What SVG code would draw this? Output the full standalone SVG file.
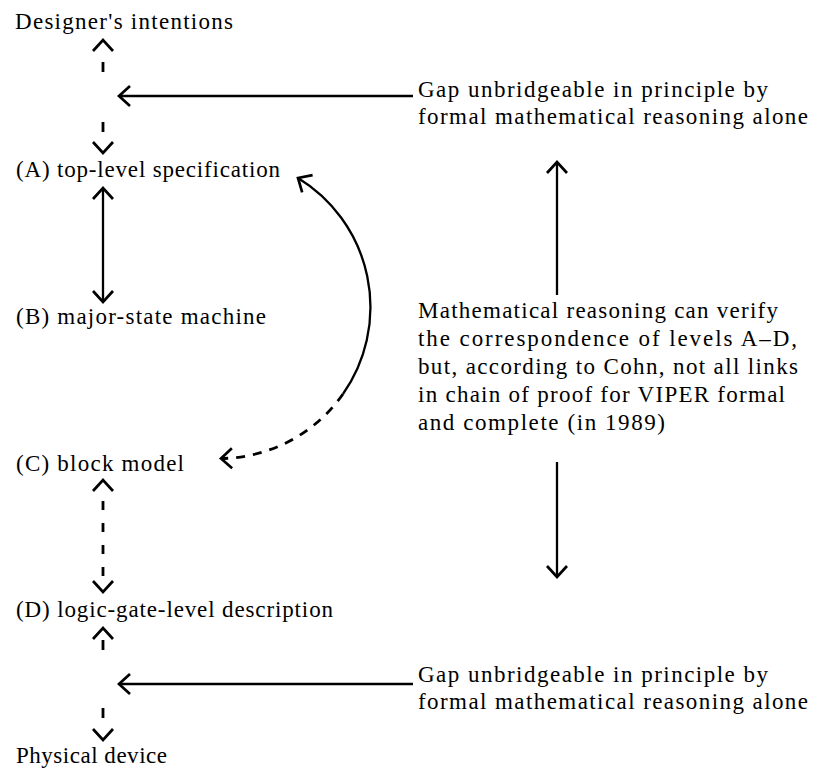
<svg xmlns="http://www.w3.org/2000/svg" width="815" height="769" viewBox="0 0 815 769">
<style>
text{font-family:"Liberation Serif","Times New Roman",serif;font-size:23px;fill:#000;}
.ln{fill:none;stroke:#000;stroke-width:2.3;}
.dl{fill:none;stroke:#000;stroke-width:2.8;}
</style>
<defs>
<marker id="ah" markerUnits="userSpaceOnUse" orient="auto-start-reverse" overflow="visible" refX="0" refY="0" markerWidth="1" markerHeight="1">
<path d="M-11,-10 L0,0 L-11,10" fill="none" stroke="#000" stroke-width="2.7" stroke-linejoin="miter"/>
</marker>
</defs>
<rect width="815" height="769" fill="#fff"/>
<g id="designer"><text x="15" y="29" textLength="218" lengthAdjust="spacing">Designer's intentions</text></g>
<g id="levelA"><text x="16" y="177" textLength="264" lengthAdjust="spacing">(A) top-level specification</text></g>
<g id="levelB"><text x="16" y="324" textLength="250" lengthAdjust="spacing">(B) major-state machine</text></g>
<g id="levelC"><text x="16" y="471" textLength="168" lengthAdjust="spacing">(C) block model</text></g>
<g id="levelD"><text x="16" y="617" textLength="317" lengthAdjust="spacing">(D) logic-gate-level description</text></g>
<g id="physical"><text x="16" y="763" textLength="151" lengthAdjust="spacing">Physical device</text></g>
<g id="gapTop">
<text x="418" y="97" textLength="350" lengthAdjust="spacing">Gap unbridgeable in principle by</text>
<text x="418" y="124" textLength="390" lengthAdjust="spacing">formal mathematical reasoning alone</text>
</g>
<g id="mathNote">
<text x="418" y="318" textLength="360" lengthAdjust="spacing">Mathematical reasoning can verify</text>
<text x="418" y="346" textLength="379" lengthAdjust="spacing">the correspondence of levels A–D,</text>
<text x="418" y="374" textLength="380" lengthAdjust="spacing">but, according to Cohn, not all links</text>
<text x="418" y="402" textLength="367" lengthAdjust="spacing">in chain of proof for VIPER formal</text>
<text x="418" y="430" textLength="247" lengthAdjust="spacing">and complete (in 1989)</text>
</g>
<g id="gapBottom">
<text x="418" y="682" textLength="350" lengthAdjust="spacing">Gap unbridgeable in principle by</text>
<text x="418" y="709" textLength="390" lengthAdjust="spacing">formal mathematical reasoning alone</text>
</g>
<g id="connectors">
<line class="dl" x1="103" y1="40" x2="103" y2="153" stroke-dasharray="0 22 10 50 10 200" marker-start="url(#ah)" marker-end="url(#ah)"/>
<line class="ln" x1="413" y1="96" x2="119" y2="96" marker-end="url(#ah)"/>
<line class="ln" x1="103" y1="188" x2="103" y2="302" marker-start="url(#ah)" marker-end="url(#ah)"/>
<path class="ln" d="M298,178 A151.3,151.3 0 0,1 343,394" marker-start="url(#ah)"/>
<path class="dl" d="M343,394 A151.3,151.3 0 0,1 221,458.5" stroke-dasharray="9 8" marker-end="url(#ah)"/>
<line class="dl" x1="103" y1="480" x2="103" y2="592" stroke-dasharray="0 21 9 13 9 13 9 13 9 100" marker-start="url(#ah)" marker-end="url(#ah)"/>
<line class="dl" x1="103" y1="628" x2="103" y2="740" stroke-dasharray="0 12 10 58 10 100" marker-start="url(#ah)" marker-end="url(#ah)"/>
<line class="ln" x1="413" y1="684" x2="119" y2="684" marker-end="url(#ah)"/>
<line class="ln" x1="557" y1="295" x2="557" y2="162" marker-end="url(#ah)"/>
<line class="ln" x1="557" y1="462" x2="557" y2="577" marker-end="url(#ah)"/>
</g>
</svg>
